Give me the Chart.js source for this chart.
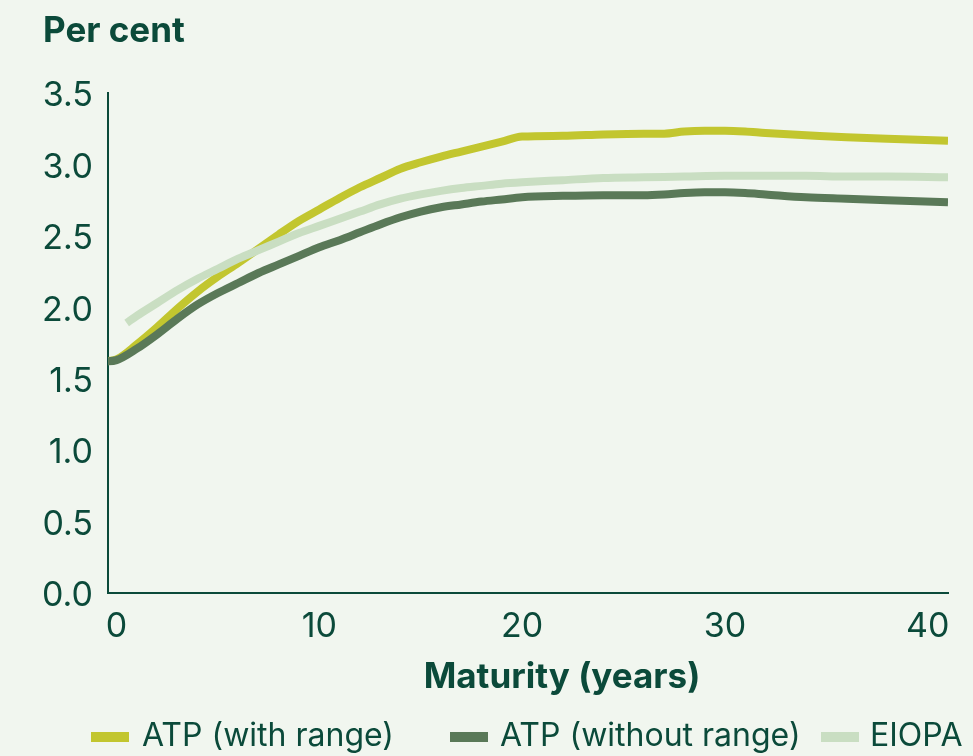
<!DOCTYPE html>
<html>
<head>
<meta charset="utf-8">
<title>Per cent – Maturity (years)</title>
<script src="https://cdn.jsdelivr.net/npm/chart.js@4.4.1/dist/chart.umd.min.js"></script>
<style>
  html, body { margin: 0; padding: 0; background: #f1f6ef; }
  #wrap { position: relative; width: 973px; height: 756px; }
</style>
</head>
<body>
<div id="wrap"><canvas id="curveChart" width="973" height="756"></canvas></div>
<script>
// ====================
// Data
// ====================
const atpMaturity = [-0.6, 0, 1, 2, 3, 4, 5, 6, 7, 8, 9, 10, 11, 12, 13, 14, 15, 16, 17, 18, 19, 20, 22, 24, 26, 27, 28, 29, 30, 31, 32, 34, 36, 38, 41];
const atpWithRange = [1.62, 1.635, 1.74, 1.86, 1.99, 2.11, 2.215, 2.31, 2.41, 2.51, 2.605, 2.685, 2.765, 2.84, 2.905, 2.97, 3.015, 3.055, 3.09, 3.125, 3.16, 3.195, 3.20, 3.21, 3.215, 3.215, 3.23, 3.235, 3.235, 3.23, 3.22, 3.205, 3.19, 3.18, 3.165];
const atpWithoutRange = [1.62, 1.63, 1.71, 1.81, 1.92, 2.02, 2.10, 2.17, 2.24, 2.30, 2.36, 2.42, 2.47, 2.525, 2.58, 2.63, 2.67, 2.70, 2.72, 2.74, 2.755, 2.77, 2.78, 2.785, 2.785, 2.79, 2.80, 2.805, 2.805, 2.80, 2.79, 2.77, 2.76, 2.75, 2.735];

const eiopaMaturity = [0.5, 1, 2, 3, 4, 5, 6, 7, 8, 9, 10, 11, 12, 13, 14, 15, 16, 17, 18, 19, 20, 22, 24, 26, 28, 30, 32, 34, 36, 38, 41];
const eiopaRates = [1.89, 1.94, 2.03, 2.12, 2.20, 2.27, 2.34, 2.40, 2.46, 2.52, 2.57, 2.62, 2.67, 2.72, 2.76, 2.79, 2.815, 2.835, 2.85, 2.865, 2.875, 2.89, 2.905, 2.91, 2.915, 2.92, 2.92, 2.92, 2.915, 2.915, 2.91];

const xTickValues = [0, 10, 20, 30, 40];
const yTickValues = [0, 0.5, 1.0, 1.5, 2.0, 2.5, 3.0, 3.5];

const seriesLabels = ['ATP (with range)', 'ATP (without range)', 'EIOPA'];
const yAxisTitle = 'Per cent';
const xAxisTitle = 'Maturity (years)';

// ====================
// Styles
// ====================
const FONT = 'Inter, "Liberation Sans", sans-serif';
const TEXT_COLOR = '#0b4a3a';
const AXIS_COLOR = '#0b4a3a';
const seriesColors = ['#c2c62f', '#5a7958', '#c9dec2'];

function toPoints(xs, ys) {
  return xs.map((x, i) => ({ x: x, y: ys[i] }));
}

// titles and legend drawn at fixed spots, like the reference
const extraTextPlugin = {
  id: 'extraText',
  afterDraw(chart) {
    const ctx = chart.ctx;
    ctx.save();
    ctx.fillStyle = TEXT_COLOR;
    ctx.textBaseline = 'middle';

    ctx.font = `bold 35px ${FONT}`;
    ctx.textAlign = 'left';
    ctx.fillText(yAxisTitle, 43, 31);
    ctx.textAlign = 'center';
    ctx.fillText(xAxisTitle, 562, 677);

    // legend
    const swatchX = [91, 450, 821];
    const textX = [142, 500, 870];
    ctx.font = `32px ${FONT}`;
    ctx.textAlign = 'left';
    seriesLabels.forEach((label, i) => {
      ctx.fillStyle = seriesColors[i];
      ctx.fillRect(swatchX[i], 732, 38, 10);
      ctx.fillStyle = TEXT_COLOR;
      ctx.fillText(label, textX[i], 736);
    });
    ctx.restore();
  }
};

const lineStyle = {
  borderWidth: 8,
  pointRadius: 0,
  cubicInterpolationMode: 'monotone',
  borderCapStyle: 'butt',
  borderJoinStyle: 'round',
  fill: false
};

new Chart(document.getElementById('curveChart'), {
  type: 'line',
  data: {
    datasets: [
      { label: seriesLabels[0], data: toPoints(atpMaturity, atpWithRange), borderColor: seriesColors[0], order: 3, ...lineStyle },
      { label: seriesLabels[1], data: toPoints(atpMaturity, atpWithoutRange), borderColor: seriesColors[1], order: 1, ...lineStyle },
      { label: seriesLabels[2], data: toPoints(eiopaMaturity, eiopaRates), borderColor: seriesColors[2], order: 2, ...lineStyle }
    ]
  },
  options: {
    responsive: false,
    animation: false,
    layout: { padding: { left: 43, top: 93, right: 25, bottom: 0 } },
    plugins: {
      legend: { display: false },
      title: { display: false },
      tooltip: { enabled: false }
    },
    scales: {
      x: {
        type: 'linear',
        min: -0.42,
        max: 41,
        afterBuildTicks: (scale) => { scale.ticks = xTickValues.map(v => ({ value: v })); },
        afterFit: (scale) => { scale.height = 163; },
        grid: { display: false, drawTicks: false },
        border: { display: true, color: AXIS_COLOR, width: 2 },
        ticks: { color: TEXT_COLOR, font: { family: FONT, size: 34 }, padding: 13, maxRotation: 0 }
      },
      y: {
        min: 0,
        max: 3.5,
        afterBuildTicks: (scale) => { scale.ticks = yTickValues.map(v => ({ value: v })); },
        afterFit: (scale) => { scale.width = 65; },
        grid: { display: false, drawTicks: false },
        border: { display: true, color: AXIS_COLOR, width: 2 },
        ticks: {
          color: TEXT_COLOR,
          font: { family: FONT, size: 34 },
          padding: 15,
          labelOffset: 3,
          callback: (v) => Number(v).toFixed(1)
        }
      }
    }
  },
  plugins: [extraTextPlugin]
});
</script>
</body>
</html>
